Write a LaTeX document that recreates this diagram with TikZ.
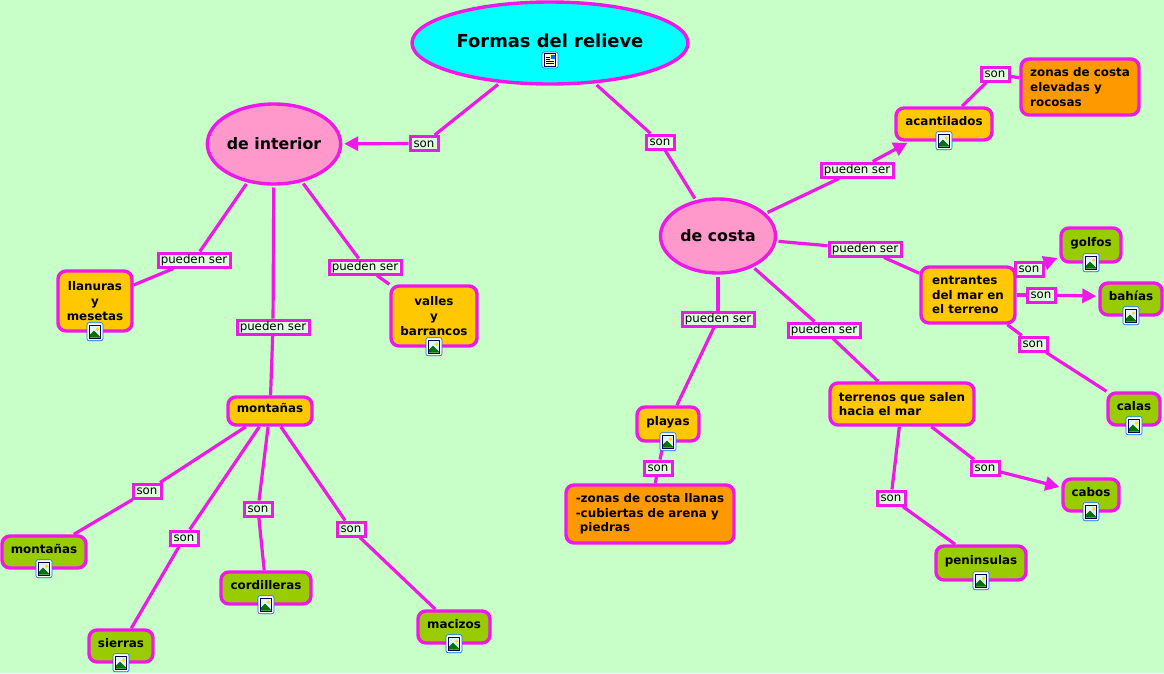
\documentclass[tikz,border=0pt]{standalone}
\usepackage{fontspec}
\setmainfont{DejaVu Sans}
\usetikzlibrary{arrows.meta,shapes.geometric}
\definecolor{mapbg}{HTML}{C8FFC8}
\definecolor{mapline}{HTML}{F018E8}
\definecolor{mapcyan}{HTML}{00FFFF}
\definecolor{mapyellow}{HTML}{FFC800}
\definecolor{maporange}{HTML}{FF9900}
\definecolor{mapgreen}{HTML}{99CC00}
\definecolor{mappink}{HTML}{FF99CC}
\tikzset{
	x=1pt, y=-1pt,
	linkline/.style={draw=mapline, line width=3.2pt},
	linkarrow/.style={linkline, shorten >=2pt, -{Triangle[length=14pt,width=14pt]}},
	linklabel/.style={draw=mapline, line width=3pt, fill=mapbg!60!white, inner sep=0pt, minimum height=14pt, font=\fontsize{11.8}{13}\selectfont, text height=9.5pt, text depth=2.5pt},
	bigoval/.style={ellipse, draw=mapline, line width=3.4pt, inner sep=0pt, outer sep=3.5pt, font=\bfseries},
	conceptbox/.style={rectangle, rounded corners=8pt, draw=mapline, line width=3.4pt, inner sep=0pt, align=center, font=\fontsize{11.9}{14.6}\selectfont\bfseries},
	oneline/.style={text height=9pt, text depth=6pt},
	iconframe/.style={draw=blue!60!cyan, fill=white, line width=0.6pt, rounded corners=2pt}
}
\newcommand{\photoicon}[1]{
	\begin{scope}[shift={(#1)}, yshift=1pt]
		\path[iconframe] (-8,-9) rectangle (8,9);
		\fill[blue!30!black] (-6,-7) rectangle (6,7);
		\fill[cyan!12!white] (-5,-6) rectangle (5,6);
		\fill[yellow!80!orange] (2.5,-2.5) circle (1.8pt);
		\fill[green!45!black] (-5,6) -- (-5,3) -- (-1,-1) -- (5,5) -- (5,6) -- cycle;
	\end{scope}
}
\begin{document}
\begin{tikzpicture}
	\fill[mapbg] (0,0) rectangle (1164,673);
	\useasboundingbox (0,0) rectangle (1164,673);

	\node[bigoval, fill=mapcyan, minimum width=276pt, minimum height=82pt, font=\fontsize{17.9}{20}\selectfont\bfseries, text height=22pt, text depth=14pt] (formas) at (550,43) {Formas del relieve};
	\node[bigoval, fill=mappink, minimum width=133pt, minimum height=80pt, font=\fontsize{15.8}{18}\selectfont\bfseries] (interior) at (274,144) {de interior};
	\node[bigoval, fill=mappink, minimum width=115pt, minimum height=74pt, font=\fontsize{15.8}{18}\selectfont\bfseries] (costa) at (718,236) {de costa};

	\node[conceptbox, fill=mapyellow, minimum width=74pt, minimum height=60pt] (llanuras) at (95,301) {llanuras\\y\\mesetas};
	\node[conceptbox, fill=mapyellow, minimum width=86pt, minimum height=60pt] (valles) at (434,316) {valles\\y\\barrancos};
	\node[conceptbox, fill=mapyellow, oneline, minimum width=84pt, minimum height=28pt] (montanas) at (270,411) {montañas};
	\node[conceptbox, fill=mapgreen, oneline, minimum width=84pt, minimum height=32pt] (montanasb) at (44,552) {montañas};
	\node[conceptbox, fill=mapgreen, oneline, minimum width=64pt, minimum height=32pt] (sierras) at (121,646) {sierras};
	\node[conceptbox, fill=mapgreen, oneline, minimum width=90pt, minimum height=32pt] (cordilleras) at (266,588) {cordilleras};
	\node[conceptbox, fill=mapgreen, oneline, minimum width=72pt, minimum height=32pt] (macizos) at (454,627) {macizos};
	\node[conceptbox, fill=mapyellow, oneline, minimum width=96pt, minimum height=32pt] (acantilados) at (944,124) {acantilados};
	\node[conceptbox, fill=maporange, align=left, minimum width=118pt, minimum height=56pt] (elevadas) at (1080,87) {zonas de costa\\elevadas y\\rocosas};
	\node[conceptbox, fill=mapyellow, align=left, minimum width=94pt, minimum height=56pt] (entrantes) at (968,295) {entrantes\\del mar en\\el terreno};
	\node[conceptbox, fill=mapgreen, oneline, minimum width=60pt, minimum height=34pt] (golfos) at (1091,245) {golfos};
	\node[conceptbox, fill=mapgreen, oneline, minimum width=62pt, minimum height=32pt] (bahias) at (1131,299) {bahías};
	\node[conceptbox, fill=mapgreen, oneline, minimum width=52pt, minimum height=32pt] (calas) at (1134,409) {calas};
	\node[conceptbox, fill=mapyellow, align=left, minimum width=144pt, minimum height=42pt] (terrenos) at (902,404) {terrenos que salen\\hacia el mar};
	\node[conceptbox, fill=mapyellow, oneline, minimum width=62pt, minimum height=34pt] (playas) at (668,424) {playas};
	\node[conceptbox, fill=maporange, align=left, minimum width=168pt, minimum height=58pt] (llanas) at (650,514) {-zonas de costa llanas\\-cubiertas de arena y\\ \ piedras};
	\node[conceptbox, fill=mapgreen, oneline, minimum width=56pt, minimum height=32pt] (cabos) at (1091,495) {cabos};
	\node[conceptbox, fill=mapgreen, oneline, minimum width=90pt, minimum height=34pt] (peninsulas) at (981,563) {peninsulas};

	\node[linklabel, minimum width=28pt] (sona) at (424,143.5) {son};
	\node[linklabel, minimum width=28pt] (sonb) at (660,142) {son};
	\node[linklabel, minimum width=72pt] (puedena) at (194,260) {pueden ser};
	\node[linklabel, minimum width=72pt] (puedenb) at (273,327) {pueden ser};
	\node[linklabel, minimum width=72pt] (puedenc) at (365,267) {pueden ser};
	\node[linklabel, minimum width=28pt] (sonc) at (147,491) {son};
	\node[linklabel, minimum width=28pt] (sond) at (184,538) {son};
	\node[linklabel, minimum width=28pt] (sone) at (258,509) {son};
	\node[linklabel, minimum width=28pt] (sonf) at (351,529) {son};
	\node[linklabel, minimum width=72pt] (puedend) at (857,170) {pueden ser};
	\node[linklabel, minimum width=72pt] (puedene) at (865,249) {pueden ser};
	\node[linklabel, minimum width=72pt] (puedenf) at (718,319) {pueden ser};
	\node[linklabel, minimum width=72pt] (puedeng) at (824,330) {pueden ser};
	\node[linklabel, minimum width=28pt] (song) at (995,74) {son};
	\node[linklabel, minimum width=28pt] (sonh) at (1029,269) {son};
	\node[linklabel, minimum width=28pt] (soni) at (1041,295) {son};
	\node[linklabel, minimum width=28pt] (sonj) at (1033,344) {son};
	\node[linklabel, minimum width=28pt] (sonk) at (658,468) {son};
	\node[linklabel, minimum width=28pt] (sonl) at (985,468) {son};
	\node[linklabel, minimum width=28pt] (sonm) at (891,498) {son};

	\draw[linkline] (formas) -- (sona);
	\draw[linkarrow, shorten >=0pt] (sona) -- (interior);
	\draw[linkline] (formas) -- (sonb);
	\draw[linkline] (sonb) -- (costa);
	\draw[linkline] (interior) -- (puedena);
	\draw[linkline] (puedena) -- (llanuras);
	\draw[linkline] (interior) -- (puedenb);
	\draw[linkline] (puedenb) -- (montanas);
	\draw[linkline] (interior) -- (puedenc);
	\draw[linkline] (puedenc) -- (valles);
	\draw[linkline] (montanas) -- (sonc);
	\draw[linkline] (sonc) -- (montanasb);
	\draw[linkline] (montanas) -- (sond);
	\draw[linkline] (sond) -- (sierras);
	\draw[linkline] (montanas) -- (sone);
	\draw[linkline] (sone) -- (cordilleras);
	\draw[linkline] (montanas) -- (sonf);
	\draw[linkline] (sonf) -- (macizos);
	\draw[linkline] (costa) -- (puedend);
	\draw[linkarrow] (puedend) -- (acantilados.207);
	\draw[linkline] (acantilados) -- (song);
	\draw[linkline] (song) -- (elevadas);
	\draw[linkline] (costa) -- (puedene);
	\draw[linkline] (puedene) -- (entrantes);
	\draw[linkline] (entrantes) -- (sonh);
	\draw[linkarrow] (sonh) -- (golfos);
	\draw[linkline] (entrantes) -- (soni);
	\draw[linkarrow] (soni) -- (bahias.175);
	\draw[linkline] (entrantes) -- (sonj);
	\draw[linkline] (sonj) -- (calas);
	\draw[linkline] (costa) -- (puedenf);
	\draw[linkline] (puedenf) -- (playas);
	\draw[linkline] (playas) -- (sonk);
	\draw[linkline] (sonk) -- (llanas);
	\draw[linkline] (costa) -- (puedeng);
	\draw[linkline] (puedeng) -- (terrenos);
	\draw[linkline] (terrenos) -- (sonl);
	\draw[linkarrow] (sonl) -- (cabos);
	\draw[linkline] (terrenos) -- (sonm);
	\draw[linkline] (sonm) -- (peninsulas);

	\photoicon{llanuras.south}
	\photoicon{valles.south}
	\photoicon{montanasb.south}
	\photoicon{sierras.south}
	\photoicon{cordilleras.south}
	\photoicon{macizos.south}
	\photoicon{acantilados.south}
	\photoicon{golfos.south}
	\photoicon{bahias.south}
	\photoicon{calas.south}
	\photoicon{playas.south}
	\photoicon{cabos.south}
	\photoicon{peninsulas.south}
	\begin{scope}[shift={(550,60)}]
		\path[iconframe] (-8,-8) rectangle (8,8);
		\fill[blue!30!black] (-6,-7) rectangle (6,7);
		\fill[yellow!20!white] (-5,-6) rectangle (5,6);
		\fill[blue!60!cyan] (0.5,-5.5) rectangle (4.5,-1);
		\draw[black, line width=0.7pt] (-4,-3) -- (-0.5,-3) (-4,-0.5) -- (-0.5,-0.5) (-4,1.5) -- (4,1.5) (-4,3.5) -- (4,3.5);
	\end{scope}
\end{tikzpicture}
\end{document}
